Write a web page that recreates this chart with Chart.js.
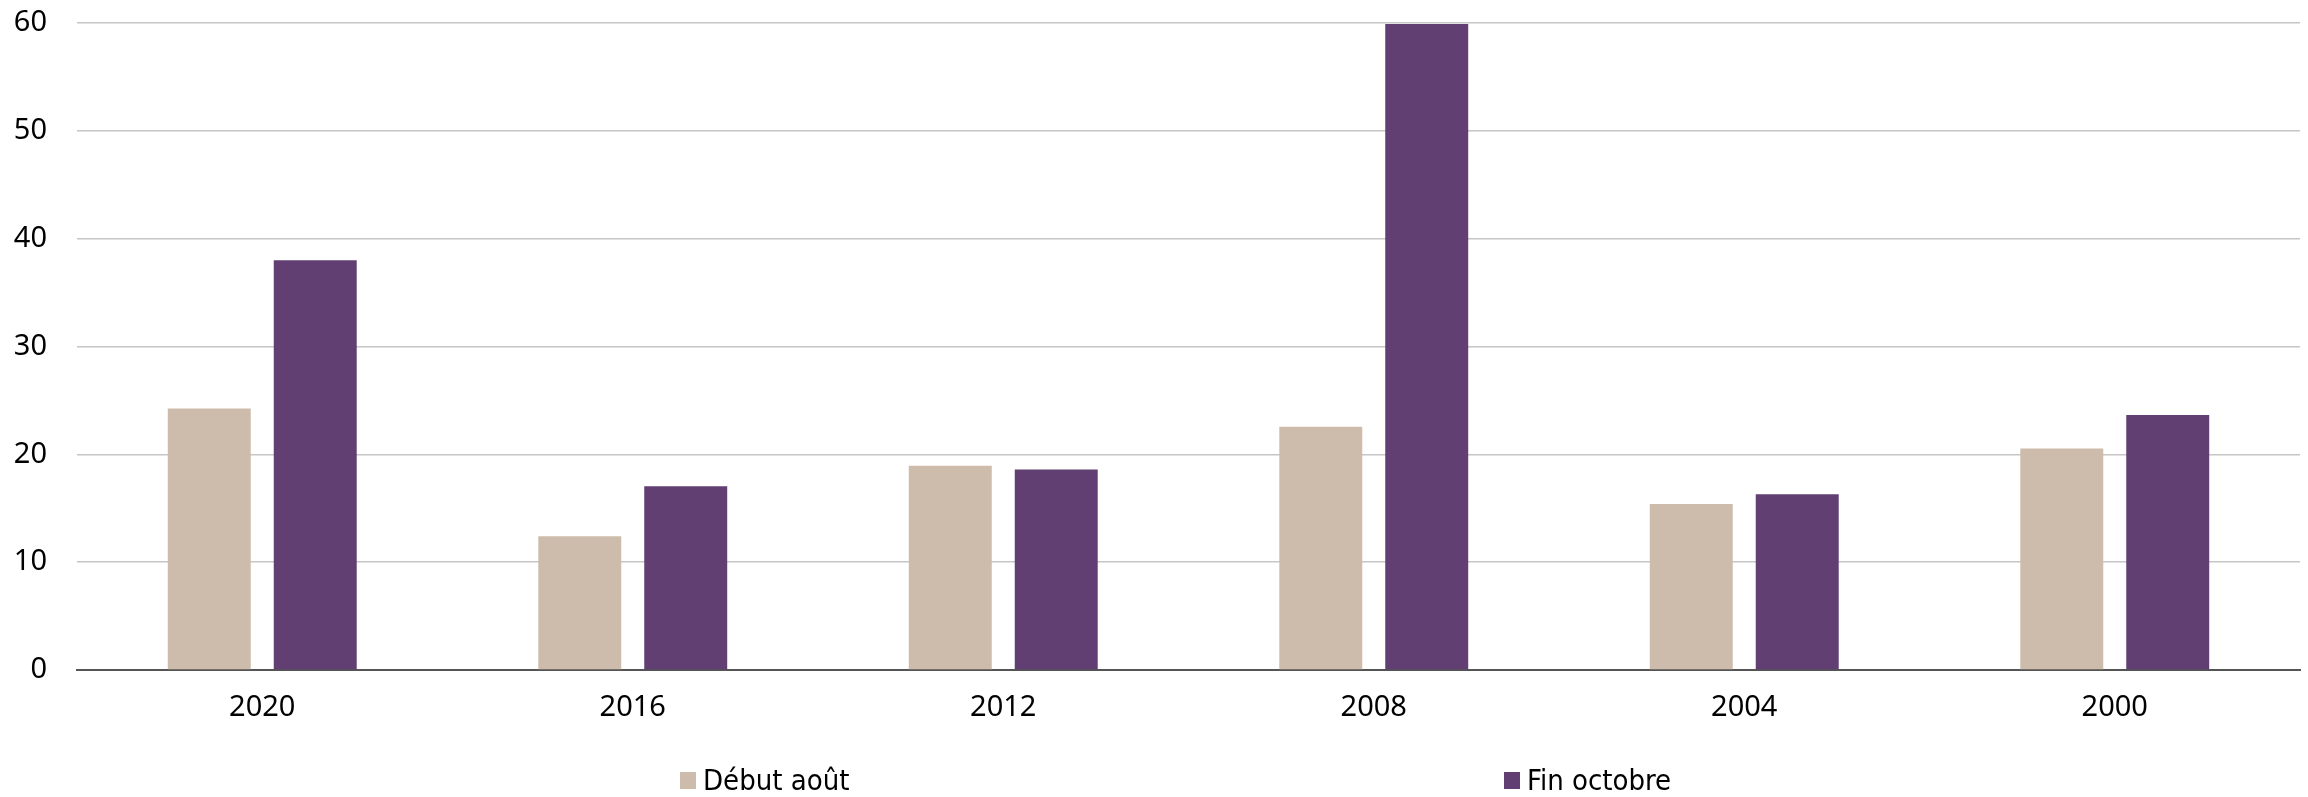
<!DOCTYPE html>
<html lang="fr">
<head>
    <meta charset="UTF-8">
    <title>Début août vs fin octobre</title>
    <script src="https://cdn.jsdelivr.net/npm/chart.js"></script>
    <style>
        body {
            margin: 0;
            background: #fff;
            font-family: "Noto Sans", sans-serif;
        }
        .wrap {
            position: relative;
            width: 2308px;
            height: 797px;
        }
        .legend {
            position: absolute;
            top: 762px;
            left: 0;
            width: 2308px;
            height: 36px;
            font-family: "Liberation Sans Narrow", "DejaVu Sans Condensed", "Noto Sans", sans-serif;
            font-size: 29px;
            color: #000;
        }
        .legend span.item {
            position: absolute;
            top: 0;
            display: flex;
            align-items: center;
            height: 36px;
            white-space: nowrap;
        }
        .legend i {
            display: inline-block;
            width: 16px;
            height: 17px;
            margin-right: 7px;
        }
    </style>
</head>
<body>
<div class="wrap">
    <canvas id="chart" width="2308" height="797"></canvas>
    <div class="legend" id="legend"></div>
</div>

<script>
    // data
    const years = ["2020", "2016", "2012", "2008", "2004", "2000"];
    const debutAout = [24.25, 12.4, 18.95, 22.55, 15.4, 20.55];
    const finOctobre = [38.0, 17.05, 18.6, 59.9, 16.3, 23.65];
    const seriesNames = ["Début août", "Fin octobre"];
    const seriesColors = ["#cdbcab", "#613f72"];
    const yTicks = [0, 10, 20, 30, 40, 50, 60];

    const tickFont = { family: "'Noto Sans', sans-serif", size: 29 };

    new Chart(document.getElementById("chart"), {
        type: "bar",
        data: {
            labels: years,
            datasets: [
                { label: seriesNames[0], data: debutAout, backgroundColor: seriesColors[0] },
                { label: seriesNames[1], data: finOctobre, backgroundColor: seriesColors[1] }
            ]
        },
        options: {
            responsive: false,
            animation: false,
            devicePixelRatio: 1,
            categoryPercentage: 0.572,
            barPercentage: 0.783,
            layout: { padding: { top: 23, right: 8, left: 0, bottom: 67 } },
            plugins: {
                legend: { display: false },
                tooltip: { enabled: false }
            },
            scales: {
                x: {
                    grid: { display: false, drawTicks: false },
                    border: { display: true, color: "#555555", width: 2 },
                    ticks: { color: "#000", font: tickFont, padding: 20 },
                    afterFit: (axis) => { axis.height = 60; }
                },
                y: {
                    min: yTicks[0],
                    max: yTicks[yTicks.length - 1],
                    afterBuildTicks: (axis) => { axis.ticks = yTicks.map(v => ({ value: v })); },
                    grid: {
                        drawTicks: false,
                        color: (c) => c.tick && c.tick.value === 0 ? "rgba(0,0,0,0)" : "#c6c6c6",
                        lineWidth: 1.5
                    },
                    border: { display: false },
                    ticks: { color: "#000", font: tickFont, padding: 30 },
                    afterFit: (axis) => {
                        axis.width = 77;
                        axis.paddingTop = 0;
                        axis.paddingBottom = 0;
                    }
                }
            }
        }
    });

    // legend placed like the original (items far apart)
    const legendLeft = [680, 1504];
    const legend = document.getElementById("legend");
    seriesNames.forEach((name, i) => {
        const item = document.createElement("span");
        item.className = "item";
        item.style.left = legendLeft[i] + "px";
        item.innerHTML = '<i style="background:' + seriesColors[i] + '"></i>' + name;
        legend.appendChild(item);
    });
</script>
</body>
</html>
